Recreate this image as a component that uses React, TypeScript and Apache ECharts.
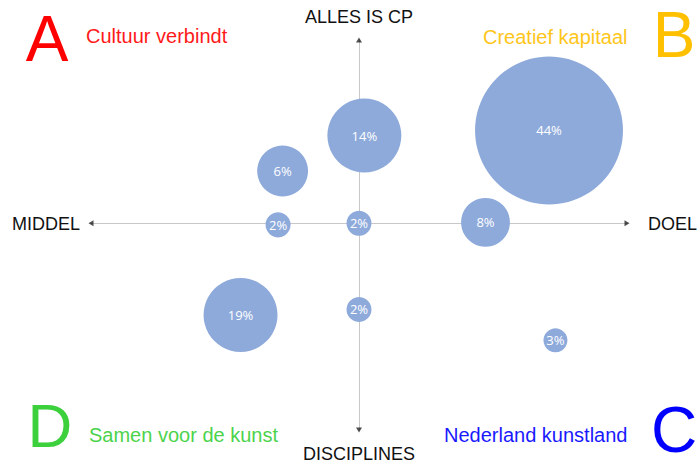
import React, { useEffect, useRef } from "react";
import * as echarts from "echarts";

// Bubble data
const shareLabels = [14, 6, 44, 2, 2, 8, 19, 2, 3]; // label text (%)
const xValues = [0.2, -2.85, 7.09, -3.02, 0, 4.72, -4.42, 0, 7.33]; // MIDDEL (-) .. DOEL (+)
const yValues = [4.5, 2.68, 4.76, -0.08, 0, 0.05, -4.7, -4.42, -6.0]; // DISCIPLINES (-) .. ALLES IS CP (+)
const bubbleWeights = [11, 5.2, 44, 1.26, 1.26, 4.8, 11, 1.26, 1.16]; // bubble area weight

// Axis ranges
const xRange = [-10, 10];
const yRange = [-10.6, 9.4];

// Texts
const axisNames = { left: "MIDDEL", right: "DOEL", top: "ALLES IS CP", bottom: "DISCIPLINES" };
const quadrantLetters = ["A", "B", "C", "D"];
const quadrantTitles = ["Cultuur verbindt", "Creatief kapitaal", "Nederland kunstland", "Samen voor de kunst"];

const FONT = "'Liberation Sans', Arial, sans-serif";

export default function App() {
  const ref = useRef<HTMLDivElement>(null);

  useEffect(() => {
    if (!ref.current) return;
    const chart = echarts.init(ref.current, null, { renderer: "svg" });

    const bubbles = shareLabels.map((s, i) => [xValues[i], yValues[i], s, bubbleWeights[i]]);
    const arrows = [
      { value: [xRange[0], 0], symbolRotate: 90 },
      { value: [xRange[1], 0], symbolRotate: -90 },
      { value: [0, yRange[1]], symbolRotate: 0 },
      { value: [0, yRange[0]], symbolRotate: 180 },
    ];

    const axisCommon = {
      type: "value" as const,
      axisLine: { show: true, onZero: true, lineStyle: { color: "#c8c8c8", width: 1 } },
      axisTick: { show: false },
      axisLabel: { show: false },
      splitLine: { show: false },
    };

    const txt = (text: string, x: number, y: number, fill: string, size: number, align = "left") => ({
      type: "text",
      x,
      y,
      silent: true,
      style: {
        text,
        fill,
        fontSize: size,
        fontFamily: FONT,
        align,
        verticalAlign: "middle",
      },
    });

    const colors = ["#ff0000", "#ffc000", "#0000ff", "#3cd03c"];
    const titleColors = ["#ff1a1a", "#ffc61a", "#1a1aff", "#4cd34c"];

    chart.setOption({
      animation: false,
      grid: { left: 91, right: 73, top: 40, bottom: 36 },
      xAxis: { ...axisCommon, min: xRange[0], max: xRange[1] },
      yAxis: { ...axisCommon, min: yRange[0], max: yRange[1] },
      series: [
        {
          type: "scatter",
          data: arrows,
          symbol: "triangle",
          symbolSize: [6, 5],
          itemStyle: { color: "#222" },
          silent: true,
          z: 1,
        },
        {
          type: "scatter",
          data: bubbles,
          symbolSize: (v: number[]) => 22.3 * Math.sqrt(v[3]),
          itemStyle: { color: "#8eaadb", opacity: 1 },
          label: {
            show: true,
            position: "inside",
            formatter: (p: any) => `${p.value[2]}%`,
            color: "#ffffff",
            fontSize: 13,
            fontFamily: "'Open Sans', Lato, sans-serif",
          },
          z: 3,
        },
      ],
      graphic: [
        txt(axisNames.top, 359, 17, "#111", 18, "center"),
        txt(axisNames.bottom, 359, 454, "#111", 18, "center"),
        txt(axisNames.left, 12, 224, "#111", 18, "left"),
        txt(axisNames.right, 648, 224, "#111", 18, "left"),
        txt(quadrantLetters[0], 47, 39, colors[0], 64, "center"),
        txt(quadrantLetters[1], 674, 35, colors[1], 64, "center"),
        txt(quadrantLetters[2], 674, 430, colors[2], 64, "center"),
        txt(quadrantLetters[3], 50, 425, colors[3], 62, "center"),
        txt(quadrantTitles[0], 86, 36, titleColors[0], 20, "left"),
        txt(quadrantTitles[1], 483, 37, titleColors[1], 20, "left"),
        txt(quadrantTitles[2], 444, 435, titleColors[2], 20, "left"),
        txt(quadrantTitles[3], 89, 435, titleColors[3], 20, "left"),
      ],
    });

    return () => chart.dispose();
  }, []);

  return <div ref={ref} style={{ position: "absolute", left: 0, top: 0, width: 700, height: 466 }} />;
}
